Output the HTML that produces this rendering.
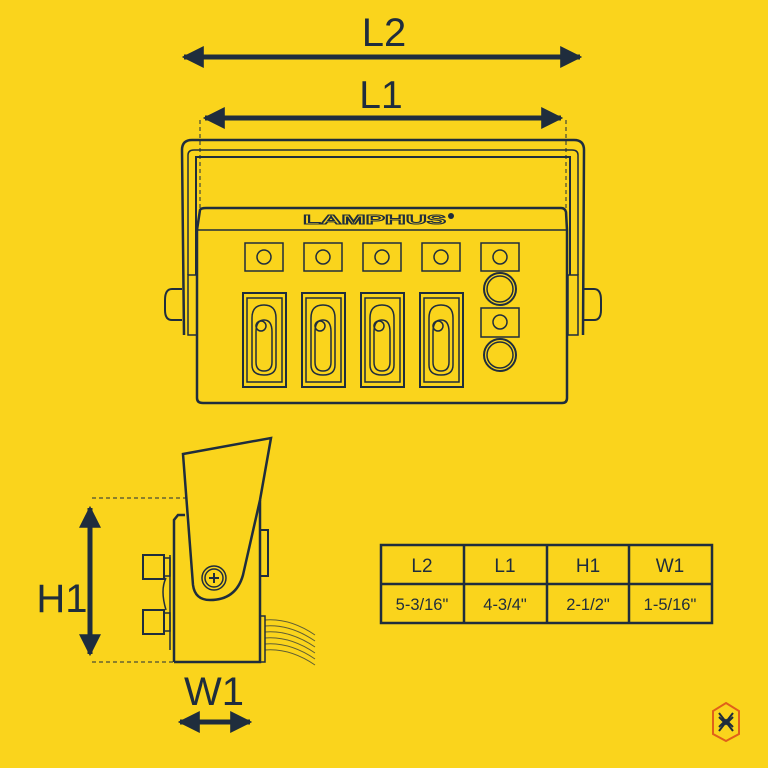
<!DOCTYPE html>
<html><head><meta charset="utf-8"><style>
html,body{margin:0;padding:0;background:#FAD41C;}
svg{display:block}
text{font-family:"Liberation Sans",sans-serif;fill:#1F2D3D}
</style></head><body>
<svg width="768" height="768" viewBox="0 0 768 768" xmlns="http://www.w3.org/2000/svg">
<rect width="768" height="768" fill="#FAD41C"/>
<defs>
<marker id="ah" viewBox="0 0 10 10" refX="9" refY="5" markerWidth="4.4" markerHeight="4.6" orient="auto-start-reverse" markerUnits="strokeWidth">
<path d="M0 0 L10 5 L0 10 Z" fill="#1F2D3D"/></marker>
</defs>
<g stroke="#1F2D3D" fill="none">
<line x1="184" y1="57" x2="580" y2="57" stroke-width="5" marker-start="url(#ah)" marker-end="url(#ah)"/>
<line x1="205" y1="118" x2="561" y2="118" stroke-width="5" marker-start="url(#ah)" marker-end="url(#ah)"/>
<line x1="200" y1="120" x2="200" y2="208" stroke-width="1" stroke-dasharray="4,3"/>
<line x1="566" y1="120" x2="566" y2="208" stroke-width="1" stroke-dasharray="4,3"/>
<path d="M184 335 L182 150 Q182 140 192 140 L574 140 Q584 140 584 150 L583 335" stroke-width="2.5"/>
<path d="M188 275 L188 155 Q188 150 194 150 L572 150 Q578 150 578 155 L578 275" stroke-width="1.5"/>
<path d="M196 275 L196 157 L570 157 L570 275" stroke-width="2"/>
<rect x="188" y="275" width="10" height="60" stroke-width="1.5" fill="#FAD41C"/>
<rect x="568" y="275" width="10" height="60" stroke-width="1.5" fill="#FAD41C"/>
<path d="M182 289 L172 289 Q165 289 165 300 L165 310 Q165 320 172 320 L182 320" stroke-width="2"/>
<path d="M584 289 L594 289 Q601 289 601 300 L601 310 Q601 320 594 320 L584 320" stroke-width="2"/>
<path d="M200 210 Q201 208 206 208 L561 208 Q565 208 566 212 L567 230 L567 398 Q567 403 562 403 L203 403 Q197 403 197 398 L197 230 Z" stroke-width="2.5" fill="#FAD41C"/>
<line x1="197" y1="230" x2="567" y2="230" stroke-width="1.5"/>
</g>
<text x="303" y="224" font-size="13" font-weight="bold" textLength="143" lengthAdjust="spacingAndGlyphs" stroke="#1F2D3D" stroke-width="1" style="fill:#FAD41C">LAMPHUS</text>
<circle cx="451" cy="216" r="3" fill="#1F2D3D"/>
<g stroke="#1F2D3D" fill="none" stroke-width="1.5">
<rect x="245" y="243" width="38" height="28"/><circle cx="264" cy="257" r="7"/>
<rect x="304" y="243" width="38" height="28"/><circle cx="323" cy="257" r="7"/>
<rect x="363" y="243" width="38" height="28"/><circle cx="382" cy="257" r="7"/>
<rect x="422" y="243" width="38" height="28"/><circle cx="441" cy="257" r="7"/>
<rect x="481" y="243" width="38" height="28"/><circle cx="500" cy="257" r="7"/>
<circle cx="500" cy="289" r="16" stroke-width="2"/><circle cx="500" cy="289" r="13"/>
<rect x="481" y="308" width="38" height="29"/><circle cx="500" cy="322" r="7"/>
<circle cx="500" cy="355" r="16" stroke-width="2"/><circle cx="500" cy="355" r="13"/>
</g>
<g stroke="#1F2D3D" fill="none" stroke-width="1.5">
<g id="sw">
<rect x="243" y="293" width="43" height="94" stroke-width="2"/>
<rect x="247" y="298" width="35" height="84"/>
<path d="M252 318 Q252 305 264 305 Q276 305 276 318 L276 365 Q276 375 264 375 Q252 375 252 365 Z"/>
<path d="M256 332 Q256 320 264 320 Q272 320 272 332 L272 362 Q272 371 264 371 Q256 371 256 362 Z"/>
<circle cx="261" cy="326" r="5"/>
</g>
<use href="#sw" x="59"/><use href="#sw" x="118"/><use href="#sw" x="177"/>
</g>
<g stroke="#1F2D3D" fill="none">
<line x1="92" y1="498" x2="260" y2="498" stroke-width="1" stroke-dasharray="4,3"/>
<line x1="92" y1="662" x2="175" y2="662" stroke-width="1" stroke-dasharray="4,3"/>
<line x1="90" y1="508" x2="90" y2="654" stroke-width="5" marker-start="url(#ah)" marker-end="url(#ah)"/>
<line x1="180" y1="722" x2="250" y2="722" stroke-width="5" marker-start="url(#ah)" marker-end="url(#ah)"/>
<path d="M174 662 L174 520 L178 515 L185 515" stroke-width="2.5"/>
<path d="M174 662 L260 662 L260 500" stroke-width="2.5"/>
<rect x="260" y="530" width="8" height="46" stroke-width="2"/>
<path d="M183 454 L271 438 L260 500 L243 575 Q236 600 210 600 Q195 600 193 585 Z" stroke-width="2.5" fill="#FAD41C"/>
<circle cx="214" cy="578" r="12" stroke-width="1.5"/><circle cx="214" cy="578" r="9" stroke-width="1.5"/>
<path d="M209 578 H219 M214 573 V583" stroke-width="2"/>
<rect x="143" y="555" width="21" height="24" stroke-width="2"/>
<rect x="143" y="610" width="21" height="24" stroke-width="2"/>
<rect x="164" y="558" width="6" height="18" stroke-width="1.5"/>
<rect x="164" y="613" width="6" height="18" stroke-width="1.5"/>
<path d="M170 555 L170 650 M166 578 Q160 590 166 610" stroke-width="1.5"/>
<rect x="260" y="616" width="5" height="46" stroke-width="1.5"/>
<g stroke-width="1" opacity="0.7">
<path d="M265 620 Q290 618 315 635"/><path d="M265 626 Q290 624 315 641"/><path d="M265 632 Q290 630 315 647"/>
<path d="M265 638 Q290 636 315 653"/><path d="M265 644 Q290 642 315 659"/><path d="M265 650 Q290 648 315 665"/>
</g>
</g>
<text x="384" y="46" font-size="40" text-anchor="middle">L2</text>
<text x="381" y="108" font-size="39" text-anchor="middle">L1</text>
<text x="62" y="612" font-size="40" text-anchor="middle">H1</text>
<text x="214" y="705" font-size="40" text-anchor="middle">W1</text>
<g stroke="#1F2D3D" fill="none" stroke-width="2.5">
<rect x="381" y="545" width="331" height="78"/>
<line x1="381" y1="584" x2="712" y2="584"/>
<line x1="464" y1="545" x2="464" y2="623"/>
<line x1="547" y1="545" x2="547" y2="623"/>
<line x1="629" y1="545" x2="629" y2="623"/>
</g>
<g font-size="19" text-anchor="middle">
<text x="422" y="572">L2</text><text x="505" y="572">L1</text><text x="588" y="572">H1</text><text x="670" y="572">W1</text>
</g>
<g font-size="16.5" text-anchor="middle">
<text x="422" y="610">5-3/16"</text><text x="505" y="610">4-3/4"</text><text x="588" y="610">2-1/2"</text><text x="670" y="610">1-5/16"</text>
</g>
<path d="M726 703 L739 711 L739 734 L726 741 L713 734 L713 711 Z" fill="none" stroke="#E0601A" stroke-width="2"/>
<path d="M719 713 L733 731 M733 713 L719 731 M719 717 L726 724 L733 717 M719 727 L726 720 L733 727" stroke="#1F2D3D" stroke-width="2" fill="none"/>
</svg>
</body></html>
